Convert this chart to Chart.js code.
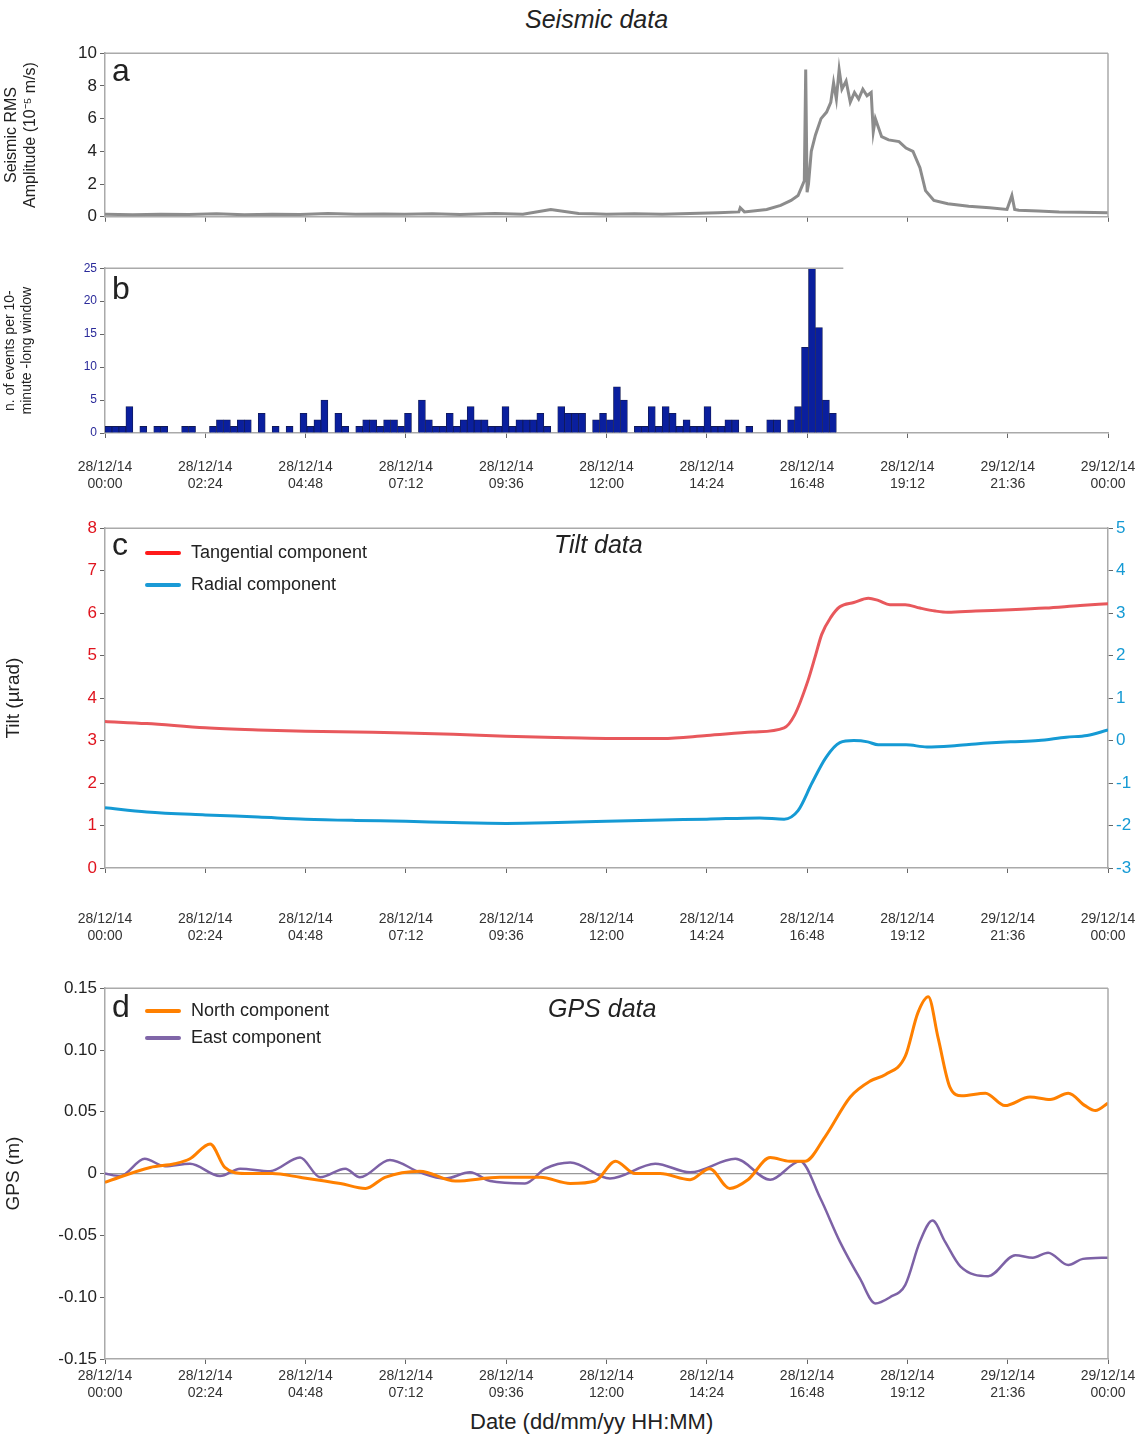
<!DOCTYPE html>
<html>
<head>
<meta charset="utf-8">
<script src="https://cdn.jsdelivr.net/npm/chart.js@4/dist/chart.umd.min.js"></script>
<style>
body { margin: 0; background: #fff; font-family: "Liberation Sans", Arial, sans-serif; }
#wrap { position: relative; width: 1146px; height: 1439px; }
.pane { position: absolute; left: 0; width: 1146px; }
.txt { position: absolute; color: #222; white-space: nowrap; }
.ital { font-style: italic; font-size: 25px; }
.letter { font-size: 32px; }
.leg { font-size: 18px; }
.leg i { display: inline-block; width: 36px; height: 4px; vertical-align: middle; margin-right: 10px; border-radius: 2px; }
</style>
</head>
<body>
<div id="wrap">
  <div class="pane" style="top:40px;height:190px"><canvas id="ca"></canvas></div>
  <div class="pane" style="top:258px;height:237px"><canvas id="cb"></canvas></div>
  <div class="pane" style="top:515px;height:440px"><canvas id="cc"></canvas></div>
  <div class="pane" style="top:975px;height:430px"><canvas id="cd"></canvas></div>

  <div class="txt ital" style="left:525px;top:5px">Seismic data</div>
  <div class="txt letter" style="left:112px;top:52px">a</div>
  <div class="txt letter" style="left:112px;top:270px">b</div>
  <div class="txt letter" style="left:112px;top:526px">c</div>
  <div class="txt letter" style="left:112px;top:988px">d</div>
  <div class="txt ital" style="left:554px;top:530px">Tilt data</div>
  <div class="txt ital" style="left:548px;top:994px">GPS data</div>
  <div class="txt leg" style="left:145px;top:542px"><i style="background:#ff1a1a"></i>Tangential component</div>
  <div class="txt leg" style="left:145px;top:574px"><i style="background:#1a9ad6"></i>Radial component</div>
  <div class="txt leg" style="left:145px;top:1000px"><i style="background:#ff8000"></i>North component</div>
  <div class="txt leg" style="left:145px;top:1027px"><i style="background:#8066a8"></i>East component</div>
  <div class="txt" style="left:470px;top:1409px;font-size:22px">Date (dd/mm/yy HH:MM)</div>
</div>
<script>
// time axis in minutes from 28/12/14 00:00
const tickMinutes = [0, 144, 288, 432, 576, 720, 864, 1008, 1152, 1296, 1440];
const tickDates = ['28/12/14', '28/12/14', '28/12/14', '28/12/14', '28/12/14', '28/12/14', '28/12/14', '28/12/14', '28/12/14', '29/12/14', '29/12/14'];
const tickTimes = ['00:00', '02:24', '04:48', '07:12', '09:36', '12:00', '14:24', '16:48', '19:12', '21:36', '00:00'];

// a: seismic RMS (10^-5 m/s)
const rmsTime = [0, 40, 80, 120, 160, 200, 240, 280, 320, 360, 400, 430, 470, 510, 560, 600, 640, 680, 700, 720, 760, 800, 840, 880, 910, 912, 918, 950, 970, 985, 995, 1000, 1004, 1006, 1008, 1010, 1014, 1020, 1028, 1036, 1042, 1046, 1050, 1054, 1058, 1064, 1070, 1076, 1082, 1088, 1094, 1100, 1103, 1106, 1115, 1125, 1140, 1150, 1160, 1170, 1178, 1190, 1210, 1240, 1270, 1295, 1302, 1306, 1312, 1340, 1370, 1400, 1440];
const rmsValue = [0.15, 0.12, 0.15, 0.14, 0.18, 0.12, 0.16, 0.14, 0.2, 0.15, 0.17, 0.15, 0.18, 0.14, 0.2, 0.15, 0.45, 0.2, 0.18, 0.15, 0.18, 0.16, 0.2, 0.25, 0.3, 0.55, 0.3, 0.45, 0.7, 1.0, 1.3, 1.8, 2.2, 9.0, 1.5, 2.0, 4.0, 5.0, 6.0, 6.4, 7.0, 8.2, 7.2, 9.0, 7.8, 8.3, 7.0, 7.6, 7.2, 7.8, 7.4, 7.6, 5.2, 6.0, 4.9, 4.7, 4.6, 4.2, 4.0, 3.0, 1.6, 1.0, 0.8, 0.65, 0.55, 0.45, 1.3, 0.45, 0.4, 0.35, 0.3, 0.28, 0.25];

// b: events per 10-minute window
const eventCounts = [1, 1, 1, 4, 0, 1, 0, 1, 1, 0, 0, 1, 1, 0, 0, 1, 2, 2, 1, 2, 2, 0, 3, 0, 1, 0, 1, 0, 3, 1, 2, 5, 0, 3, 1, 0, 1, 2, 2, 1, 2, 2, 1, 3, 0, 5, 2, 1, 1, 3, 1, 2, 4,
  2, 2, 1, 1, 4, 1, 2, 2, 2, 3, 1, 0, 4, 3, 3, 3, 0, 2, 3, 2, 7, 5, 0, 1, 1, 4, 1, 4, 3, 1, 2, 1, 1, 4, 1, 1, 2, 2, 0, 1, 0, 0, 2, 2, 0, 2, 4, 13, 25, 16, 5, 3];

// c: tilt (µrad)
const tangTime = [0, 60, 144, 220, 288, 360, 432, 500, 576, 650, 720, 800, 864, 930, 975, 990, 1009, 1020, 1029, 1042, 1055, 1075, 1096, 1110, 1127, 1149, 1170, 1192, 1210, 1250, 1300, 1350, 1400, 1440];
const tangValue = [3.45, 3.4, 3.3, 3.25, 3.22, 3.2, 3.18, 3.15, 3.1, 3.07, 3.05, 3.05, 3.12, 3.2, 3.3, 3.6, 4.4, 5.0, 5.5, 5.9, 6.15, 6.25, 6.35, 6.3, 6.2, 6.2, 6.12, 6.05, 6.02, 6.05, 6.08, 6.12, 6.18, 6.22];
const radTime = [0, 60, 144, 220, 288, 360, 432, 500, 576, 650, 720, 800, 864, 940, 975, 995, 1015, 1035, 1055, 1075, 1095, 1110, 1150, 1180, 1220, 1250, 1300, 1340, 1380, 1410, 1440];
const radValue = [-1.58, -1.68, -1.75, -1.8, -1.85, -1.88, -1.9, -1.93, -1.95, -1.93, -1.9, -1.87, -1.85, -1.82, -1.85, -1.65, -1.0, -0.4, -0.05, 0.0, -0.03, -0.1, -0.1, -0.15, -0.12, -0.08, -0.03, 0.0, 0.08, 0.12, 0.25];

// d: GPS (m)
const northTime = [0, 65, 100, 122, 151, 172, 201, 240, 280, 338, 374, 402, 452, 503, 567, 625, 668, 704, 733, 761, 797, 840, 868, 897, 923, 955, 983, 1005, 1034, 1070, 1099, 1120, 1149, 1167, 1182, 1196, 1213, 1230, 1264, 1292, 1328, 1357, 1383, 1407, 1422, 1440];
const northValue = [-0.007, 0.005, 0.008, 0.012, 0.024, 0.005, 0, 0, -0.003, -0.008, -0.012, -0.003, 0.002, -0.006, -0.003, -0.003, -0.008, -0.006, 0.01, 0, 0, -0.005, 0.004, -0.012, -0.005, 0.013, 0.01, 0.01, 0.03, 0.062, 0.075, 0.08, 0.095, 0.13, 0.143, 0.11, 0.07, 0.063, 0.065, 0.055, 0.062, 0.06, 0.065, 0.055, 0.051, 0.057];
const eastTime = [0, 22, 57, 86, 122, 165, 194, 237, 280, 309, 345, 366, 409, 452, 488, 524, 553, 603, 632, 668, 725, 790, 840, 905, 955, 998, 1027, 1055, 1084, 1106, 1127, 1149, 1170, 1188, 1206, 1228, 1268, 1307, 1332, 1354, 1383, 1404, 1440];
const eastValue = [0, -0.002, 0.012, 0.006, 0.008, -0.002, 0.004, 0.002, 0.013, -0.003, 0.004, -0.003, 0.011, 0.001, -0.004, 0.001, -0.006, -0.008, 0.004, 0.009, -0.004, 0.008, 0.001, 0.012, -0.005, 0.01, -0.02, -0.055, -0.085, -0.105, -0.1, -0.09, -0.055, -0.038, -0.055, -0.075, -0.083, -0.066, -0.068, -0.064, -0.074, -0.069, -0.068];

const FONT = '"Liberation Sans", Arial, sans-serif';
const FRAME = '#aaaaaa';
const toXY = (xs, ys) => xs.map((x, i) => ({ x: x, y: ys[i] }));

// blank lines push the date labels down without changing label widths
function timeAxis(bottomPx, showLabels, blankLines) {
    const pre = new Array(blankLines || 0).fill('');
    return {
        type: 'linear', min: 0, max: 1440, offset: false,
        afterBuildTicks: (s) => { s.ticks = tickMinutes.map((v) => ({ value: v })); },
        afterFit: (s) => { s.height = bottomPx; },
        ticks: {
            display: showLabels, color: '#333', maxRotation: 0, padding: 4,
            font: { family: FONT, size: 14 },
            callback: (v) => { const i = tickMinutes.indexOf(v); return i < 0 ? '' : pre.concat([tickDates[i], tickTimes[i]]); }
        },
        grid: { drawOnChartArea: false, offset: false, tickLength: 5, color: '#666' },
        border: { color: FRAME, width: 1.5 }
    };
}

function yAxis(min, max, step, color, size, title, titleSize, fmt) {
    return {
        min: min, max: max,
        afterFit: (s) => { s.width = 105; },
        ticks: { stepSize: step, color: color, font: { family: FONT, size: size }, callback: fmt || ((v) => v) },
        grid: { drawOnChartArea: false, tickLength: 5, color: '#666' },
        border: { color: FRAME, width: 1.5 },
        title: { display: true, text: title, color: '#222', font: { family: FONT, size: titleSize }, padding: { top: 2, bottom: 14 } }
    };
}

// frame box around the plot area (panel b only boxed up to its data end)
function framePlugin(topEndMinute, rightSide) {
    return {
        id: 'frame',
        afterDraw(chart) {
            const { ctx, chartArea: a, scales } = chart;
            ctx.save();
            ctx.strokeStyle = FRAME;
            ctx.lineWidth = 1.5;
            ctx.beginPath();
            const tx = topEndMinute == null ? a.right : scales.x.getPixelForValue(topEndMinute);
            ctx.moveTo(a.left, a.top);
            ctx.lineTo(tx, a.top);
            if (rightSide) { ctx.moveTo(a.right, a.top); ctx.lineTo(a.right, a.bottom); }
            ctx.stroke();
            ctx.restore();
        }
    };
}

const zeroLine = {
    id: 'zeroLine',
    beforeDatasetsDraw(chart) {
        const { ctx, chartArea: a, scales } = chart;
        const y = scales.y.getPixelForValue(0);
        ctx.save();
        ctx.strokeStyle = '#999';
        ctx.lineWidth = 1.2;
        ctx.beginPath();
        ctx.moveTo(a.left, y);
        ctx.lineTo(a.right, y);
        ctx.stroke();
        ctx.restore();
    }
};

const common = {
    responsive: true, maintainAspectRatio: false, animation: false,
    plugins: { legend: { display: false }, tooltip: { enabled: false } },
    elements: { point: { radius: 0 } }
};

// panel a
new Chart(document.getElementById('ca'), {
    type: 'line',
    data: { datasets: [{ data: toXY(rmsTime, rmsValue), borderColor: '#8c8c8c', borderWidth: 3, tension: 0 }] },
    options: Object.assign({}, common, {
        layout: { padding: { top: 8, right: 38 } },
        scales: {
            x: timeAxis(7, false),
            y: yAxis(0, 10, 2, '#222', 17, ['Seismic RMS', 'Amplitude (10\u207B\u2075 m/s)'], 16)
        }
    }),
    plugins: [framePlugin(null, true)]
});

// panel b
new Chart(document.getElementById('cb'), {
    type: 'bar',
    data: { datasets: [{ data: eventCounts.map((c, i) => ({ x: i * 10 + 5, y: c })), backgroundColor: '#0a1f9e', borderColor: '#111a55', borderWidth: 0.8, barPercentage: 1, categoryPercentage: 1 }] },
    options: Object.assign({}, common, {
        layout: { padding: { top: 9, right: 38 } },
        scales: {
            x: timeAxis(62, true, 1),
            y: yAxis(0, 25, 5, '#2a2a9a', 12, ['n. of events per 10-', 'minute -long window'], 14)
        }
    }),
    plugins: [framePlugin(1060, false)]
});

// panel c
new Chart(document.getElementById('cc'), {
    type: 'line',
    data: { datasets: [
        { data: toXY(tangTime, tangValue), borderColor: '#e8585c', borderWidth: 3, cubicInterpolationMode: 'monotone', yAxisID: 'y' },
        { data: toXY(radTime, radValue), borderColor: '#159ad4', borderWidth: 3, cubicInterpolationMode: 'monotone', yAxisID: 'y2' }
    ] },
    options: Object.assign({}, common, {
        layout: { padding: { top: 8 } },
        scales: {
            x: timeAxis(87, true, 2),
            y: yAxis(0, 8, 1, '#e0141e', 17, 'Tilt (\u00B5rad)', 19),
            y2: {
                position: 'right', min: -3, max: 5,
                afterFit: (s) => { s.width = 38; },
                ticks: { stepSize: 1, color: '#159ad4', font: { family: FONT, size: 17 } },
                grid: { drawOnChartArea: false, tickLength: 5, color: '#666' },
                border: { color: FRAME, width: 1.5 }
            }
        }
    }),
    plugins: [framePlugin(null, false)]
});

// panel d
new Chart(document.getElementById('cd'), {
    type: 'line',
    data: { datasets: [
        { data: toXY(northTime, northValue), borderColor: '#ff8000', borderWidth: 3, cubicInterpolationMode: 'monotone' },
        { data: toXY(eastTime, eastValue), borderColor: '#7d62a6', borderWidth: 2.5, cubicInterpolationMode: 'monotone' }
    ] },
    options: Object.assign({}, common, {
        layout: { padding: { top: 9, right: 38 } },
        scales: {
            x: timeAxis(46, true),
            y: yAxis(-0.15, 0.15, 0.05, '#222', 17, 'GPS (m)', 19, (v) => Math.abs(v) < 1e-9 ? '0' : v.toFixed(2))
        }
    }),
    plugins: [framePlugin(null, true), zeroLine]
});
</script>
</body>
</html>
